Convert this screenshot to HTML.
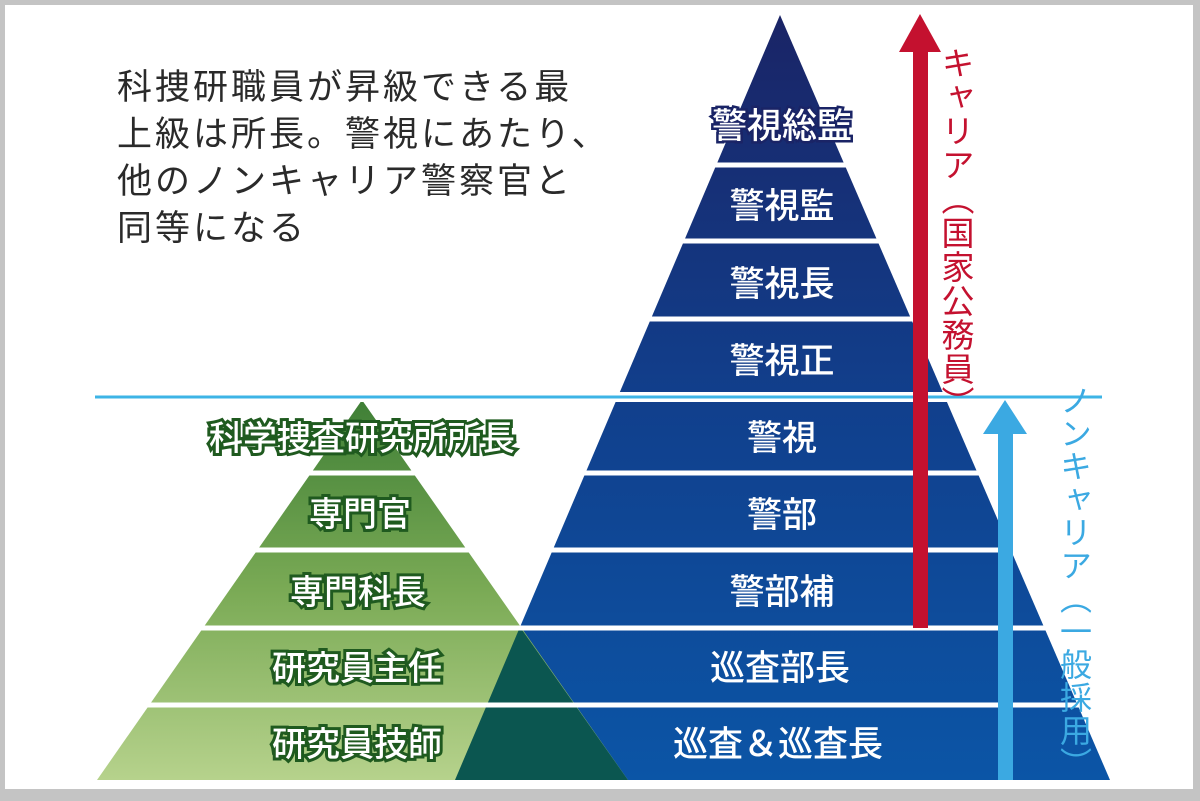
<!DOCTYPE html>
<html><head><meta charset="utf-8"><style>
html,body{margin:0;padding:0;}
body{width:1200px;height:801px;position:relative;overflow:hidden;background:#c4c4c4;font-family:"Liberation Sans","Noto Sans CJK JP",sans-serif;}
#frame{position:absolute;left:5px;top:5px;width:1188px;height:784px;background:#fff;}
svg{position:absolute;left:0;top:0;}
.t{position:absolute;left:117px;top:64px;font-size:35px;line-height:47px;color:#2a2a2a;letter-spacing:3px;white-space:nowrap;}
.vt{position:absolute;writing-mode:vertical-rl;font-size:32px;white-space:nowrap;line-height:1;}
</style></head><body>
<div id="frame"></div>
<svg width="1200" height="801" viewBox="0 0 1200 801">
<defs>
<linearGradient id="bg" x1="0" y1="0" x2="0" y2="1">
<stop offset="0" stop-color="#1a2466"/><stop offset="0.5" stop-color="#113f8c"/><stop offset="1" stop-color="#0b55a6"/>
</linearGradient>
<linearGradient id="gg" x1="0" y1="0" x2="0" y2="1">
<stop offset="0" stop-color="#3f7f36"/><stop offset="0.5" stop-color="#7aaa55"/><stop offset="1" stop-color="#b6d28c"/>
</linearGradient>
</defs>
<polygon points="780,15 455,780 1110,780" fill="url(#bg)"/>
<polygon points="362,400 97,780 628,780" fill="url(#gg)"/>
<polygon points="520,627 628,780 455,780" fill="#0b5650"/>
<g stroke="#fff" stroke-width="5">
<line x1="80" y1="165" x2="1130" y2="165"/>
<line x1="80" y1="241" x2="1130" y2="241"/>
<line x1="80" y1="319" x2="1130" y2="319"/>
<line x1="80" y1="473" x2="1130" y2="473"/>
<line x1="80" y1="550" x2="1130" y2="550"/>
<line x1="80" y1="628" x2="1130" y2="628"/>
<line x1="80" y1="705" x2="1130" y2="705"/>
</g>
<rect x="80" y="392" width="1050" height="10" fill="#fff"/>
<line x1="95" y1="397" x2="1102" y2="397" stroke="#3db4e6" stroke-width="3"/>
<rect x="913" y="50" width="15" height="578" fill="#c4112f"/>
<polygon points="920,14 899,52 941,52" fill="#c4112f"/>
<rect x="998" y="432" width="15" height="348" fill="#3ba9e2"/>
<polygon points="1005,400 983,434 1027,434" fill="#3ba9e2"/>
<g font-family="Liberation Sans, Noto Sans CJK JP, sans-serif" font-size="35" fill="#fff" text-anchor="middle" font-weight="500">
<text x="782" y="138" stroke="#1a2466" stroke-width="5" paint-order="stroke">警視総監</text>
<text x="782" y="218">警視監</text>
<text x="782" y="296">警視長</text>
<text x="782" y="373">警視正</text>
<text x="782" y="450">警視</text>
<text x="782" y="527">警部</text>
<text x="782" y="604">警部補</text>
<text x="780" y="680">巡査部長</text>
<text x="778" y="756">巡査＆巡査長</text>
</g>
<g font-family="Liberation Sans, Noto Sans CJK JP, sans-serif" font-size="34" fill="#fff" text-anchor="middle" font-weight="500" stroke="#1f5a1f" stroke-width="6" paint-order="stroke">
<text x="362" y="450">科学捜査研究所所長</text>
<text x="360" y="526">専門官</text>
<text x="358" y="604">専門科長</text>
<text x="357" y="680">研究員主任</text>
<text x="357" y="756">研究員技師</text>
</g>
</svg>
<div class="t">科捜研職員が昇級できる最<br>上級は所長。警視にあたり、<br>他のノンキャリア警察官と<br>同等になる</div>
<div class="vt" style="left:939px;top:46px;color:#c4112f;font-size:33px;letter-spacing:1px;">キャリア（国家公務員）</div>
<div class="vt" style="left:1058px;top:384px;color:#3ba9e2;letter-spacing:1px;">ノンキャリア（一般採用）</div>
</body></html>
